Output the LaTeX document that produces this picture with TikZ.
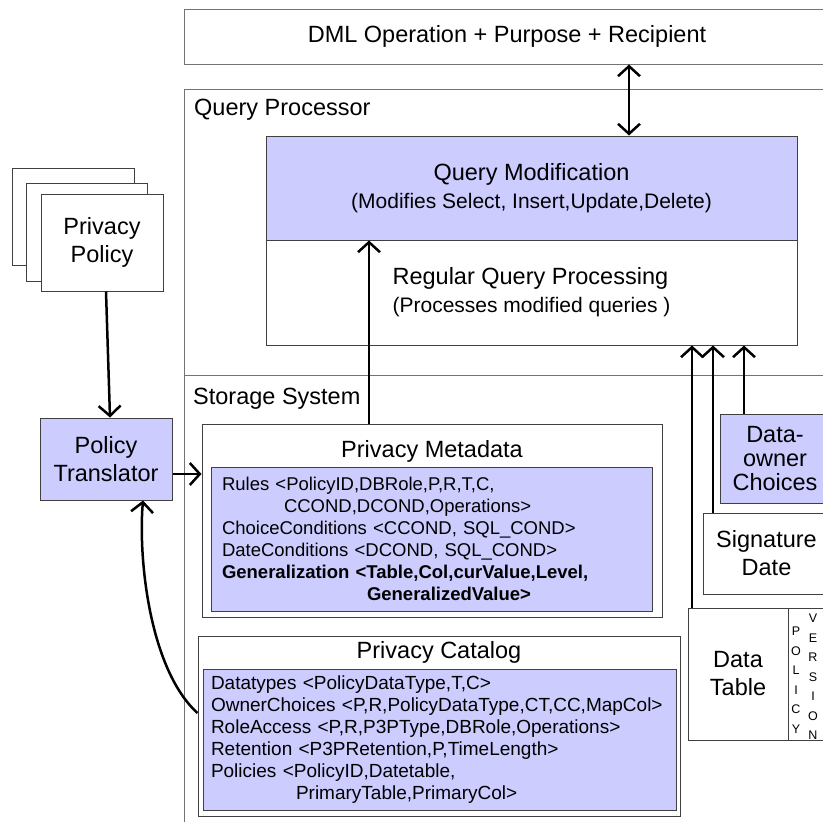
\documentclass[tikz,border=0pt]{standalone}
\usepackage{fontspec}
\setmainfont{Liberation Sans}
\usetikzlibrary{arrows.meta}

\definecolor{lavender}{RGB}{204,204,255}

\begin{document}
\begin{tikzpicture}[x=1pt,y=1pt,
    every node/.style={inner sep=0pt},
    frame/.style={draw=black!55,line width=1pt},
    box/.style={draw=black!75,line width=1pt,fill=white},
    hilite/.style={box,fill=lavender},
    big/.style={font=\fontsize{23.5}{28}\selectfont},
    arr/.style={line width=2.5pt,-{Straight Barb[length=10pt,width=22pt]}},
    arrboth/.style={line width=2.5pt,{Straight Barb[length=10pt,width=22pt]}-{Straight Barb[length=10pt,width=22pt]}}]
    \useasboundingbox (0,0) rectangle (823,-822);

    % request and the two big areas
    \node[frame,minimum width=646pt,minimum height=55pt,big] (dml) at (507,-36.5) {DML Operation + Purpose + Recipient};
    \node[frame,minimum width=646pt,minimum height=286pt] (qp) at (507,-232) {};
    \node[big,anchor=base west] (qptitle) at (194,-115) {Query Processor};
    \node[frame,minimum width=646pt,minimum height=455pt] (stor) at (507,-602.5) {};
    \node[big,anchor=base west] (stortitle) at (193,-404) {Storage System};

    % query processor
    \node[hilite,minimum width=531pt,minimum height=104pt,big,align=center] (qm) at (531.5,-188)
        {Query Modification\\{\fontsize{21}{25}\selectfont(Modifies Select, Insert,Update,Delete)}};
    \node[box,minimum width=531pt,minimum height=105pt,big,align=left] (rqp) at (531.5,-292.5)
        {Regular Query Processing\\{\fontsize{21}{25}\selectfont(Processes modified queries )}};

    % policies
    \node[box,minimum width=122pt,minimum height=97pt] (pol3) at (73,-216.5) {};
    \node[box,minimum width=121pt,minimum height=98pt] (pol2) at (86.5,-232) {};
    \node[box,minimum width=122pt,minimum height=97pt,big,align=center] (pol) at (102,-242.5) {Privacy\\Policy};
    \node[hilite,minimum width=132pt,minimum height=82pt,big,align=center] (transl) at (106,-459) {Policy\\Translator};

    % storage system
    \node[box,minimum width=460pt,minimum height=193pt] (meta) at (432,-520.5) {};
    \node[big,anchor=base] (metatitle) at (432,-457) {Privacy Metadata};
    \node[hilite,text width=419pt,inner xsep=11pt,minimum height=144pt,align=left,
        font=\fontsize{18.5}{22}\selectfont] (metabody) at (431.5,-539)
        {Rules <PolicyID,DBRole,P,R,T,C,\\
         \hspace*{62pt}CCOND,DCOND,Operations>\\
         ChoiceConditions <CCOND, SQL\_COND>\\
         DateConditions <DCOND, SQL\_COND>\\
         \textbf{Generalization <Table,Col,curValue,Level,}\\
         \hspace*{145pt}\textbf{GeneralizedValue>}};

    \node[box,minimum width=482pt,minimum height=180pt] (cat) at (439,-726) {};
    \node[big,anchor=base] (cattitle) at (439,-658) {Privacy Catalog};
    \node[hilite,text width=457pt,inner xsep=8pt,minimum height=141pt,align=left,
        font=\fontsize{19}{22}\selectfont] (catbody) at (439.5,-739.5)
        {Datatypes <PolicyDataType,T,C>\\
         OwnerChoices <P,R,PolicyDataType,CT,CC,MapCol>\\
         RoleAccess <P,R,P3PType,DBRole,Operations>\\
         Retention <P3PRetention,P,TimeLength>\\
         Policies <PolicyID,Datetable,\\
         \hspace*{85pt}PrimaryTable,PrimaryCol>};

    \node[hilite,minimum width=110pt,minimum height=89pt,align=center,
        font=\fontsize{23.5}{24}\selectfont] (own) at (775,-458.5) {Data-\\owner\\Choices};
    \node[box,minimum width=127pt,minimum height=81pt,big,align=center] (sig) at (766.5,-553.5) {Signature\\Date};
    \node[box,minimum width=100pt,minimum height=132pt,big,align=center] (dtab) at (738,-674) {Data\\Table};
    \node[box,minimum width=42pt,minimum height=132pt] (ver) at (809,-674) {};
    \node[align=center,font=\fontsize{12.5}{19.5}\selectfont] (poltxt) at (796,-680) {P\\O\\L\\I\\C\\Y};
    \node[align=center,font=\fontsize{12.5}{19.5}\selectfont] (vertxt) at (813,-677) {V\\E\\R\\S\\I\\O\\N};

    % connectors
    \path ([xshift=122pt]dml.south) edge[arrboth] ([xshift=97.5pt]qm.north);
    \path ([xshift=-63pt]meta.north) edge[arr] ([xshift=-162.5pt]qm.south);
    \path ([xshift=-46pt]dtab.north) edge[arr] ([xshift=160.5pt]rqp.south);
    \path ([xshift=-53.5pt]sig.north) edge[arr] ([xshift=181.5pt]rqp.south);
    \path ([xshift=-31pt]own.north) edge[arr] ([xshift=212.5pt]rqp.south);
    \path ([xshift=4pt]pol.south) edge[arr] ([xshift=4pt]transl.north);
    \path ([yshift=-15pt]transl.east) edge[arr] ([yshift=46.5pt]meta.west);
    \draw[arr] ([yshift=13pt]cat.west) .. controls (150,-670) and (138,-560) .. ([xshift=37pt]transl.south);
\end{tikzpicture}
\end{document}
